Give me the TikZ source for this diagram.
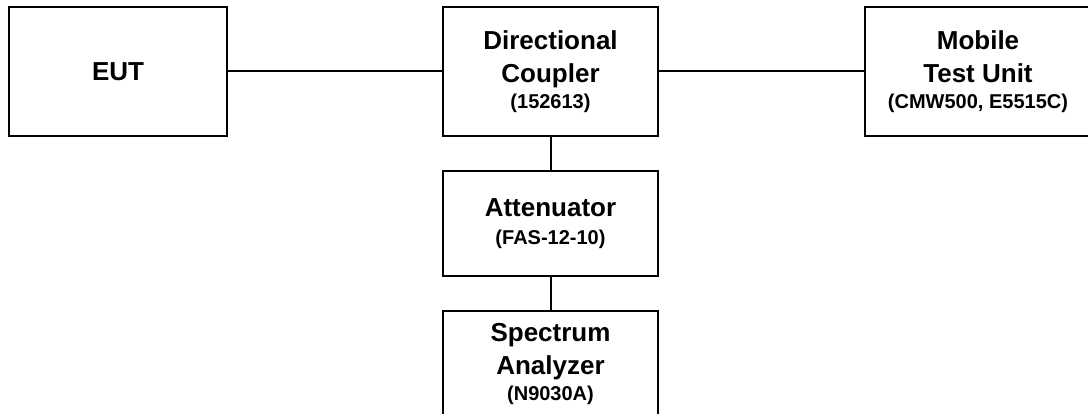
\documentclass[tikz,border=0pt]{standalone}
\usepackage{fontspec}
\setmainfont{Liberation Sans}
\usetikzlibrary{positioning}

\tikzset{
  unit/.style={draw, line width=2.6pt, minimum width=215pt, minimum height=129pt,
    inner sep=0pt, align=center, font=\fontsize{26}{33}\selectfont\bfseries},
  link/.style={line width=2pt}
}
\newcommand{\subtxt}[1]{{\fontsize{20}{22}\selectfont #1}}

\begin{document}
\begin{tikzpicture}[x=1pt, y=-1pt]
  \useasboundingbox[clip] (0,0) rectangle (1088,414);
  \fill[white] (0,0) rectangle (1088,414);
  % top row
  \node[unit, minimum width=218pt] (eut) at (118,71.5) {EUT};
  \node[unit] (dc) at (550.5,71.5) {Directional\\Coupler\\[-7pt]\subtxt{(152613)}};
  \node[unit, minimum width=226pt] (mtu) at (978,71.5) {Mobile\\Test Unit\\[-7pt]\subtxt{(CMW500, E5515C)}};
  % measurement branch
  \node[unit, minimum height=105pt] (att) at (550.5,223.5) {Attenuator\\[-5pt]\subtxt{(FAS-12-10)}};
  \node[unit, minimum height=105pt] (sa) at (550.5,363.5) {Spectrum\\Analyzer\\[-7pt]\subtxt{(N9030A)}};
  % cables
  \draw[link] (eut) -- (dc);
  \draw[link] (dc) -- (mtu);
  \draw[link] (dc) -- (att);
  \draw[link] (att) -- (sa);
\end{tikzpicture}
\end{document}
